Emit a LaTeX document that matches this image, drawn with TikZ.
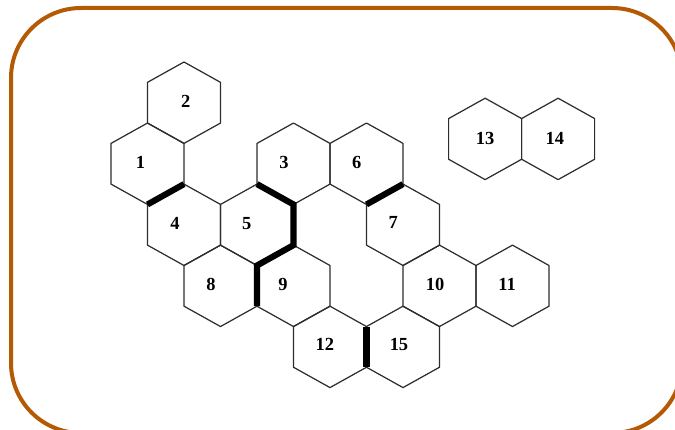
\documentclass[tikz,border=0pt]{standalone}
\usepackage{fontspec}
\setmainfont{Liberation Serif}
\usepackage{tikz}

\begin{document}
\begin{tikzpicture}[
    line cap=round,
    line join=round,
    x=1cm,
    y=1cm
]

% =========================================================
% Colors
% =========================================================
\definecolor{frameorange}{RGB}{180,90,5}
\definecolor{cellgray}{RGB}{45,45,45}

% =========================================================
% Styles
% =========================================================
\tikzset{
    outerframe/.style={frameorange,line width=0.08cm,rounded corners=1.4cm},
    hexline/.style={cellgray,line width=0.7pt},
    wallline/.style={black,line width=3.5pt,line cap=butt},
    cellnum/.style={font=\fontsize{10.5}{11}\selectfont\bfseries,inner sep=0pt}
}

\useasboundingbox (0,0) rectangle (13.5,8.6);
\clip (0,0) rectangle (13.5,8.6);

% frame
\draw[outerframe] (0.22,-0.06) rectangle (13.64,8.44);

% =========================================================
% Board: pointy-top cells, unit = half width / half side
% =========================================================
\begin{scope}[shift={(3.68,6.546)},x=0.73cm,y=0.407cm]

    % cells
    \draw[hexline] (0,2) -- ++(1,-1) -- ++(0,-2) -- ++(-1,-1) -- ++(-1,1) -- ++(0,2) -- cycle;
    \draw[hexline] (-1,-1) -- ++(1,-1) -- ++(0,-2) -- ++(-1,-1) -- ++(-1,1) -- ++(0,2) -- cycle;
    \draw[hexline] (3,-1) -- ++(1,-1) -- ++(0,-2) -- ++(-1,-1) -- ++(-1,1) -- ++(0,2) -- cycle;
    \draw[hexline] (5,-1) -- ++(1,-1) -- ++(0,-2) -- ++(-1,-1) -- ++(-1,1) -- ++(0,2) -- cycle;
    \draw[hexline] (0,-4) -- ++(1,-1) -- ++(0,-2) -- ++(-1,-1) -- ++(-1,1) -- ++(0,2) -- cycle;
    \draw[hexline] (2,-4) -- ++(1,-1) -- ++(0,-2) -- ++(-1,-1) -- ++(-1,1) -- ++(0,2) -- cycle;
    \draw[hexline] (6,-4) -- ++(1,-1) -- ++(0,-2) -- ++(-1,-1) -- ++(-1,1) -- ++(0,2) -- cycle;
    \draw[hexline] (1,-7) -- ++(1,-1) -- ++(0,-2) -- ++(-1,-1) -- ++(-1,1) -- ++(0,2) -- cycle;
    \draw[hexline] (3,-7) -- ++(1,-1) -- ++(0,-2) -- ++(-1,-1) -- ++(-1,1) -- ++(0,2) -- cycle;
    \draw[hexline] (7,-7) -- ++(1,-1) -- ++(0,-2) -- ++(-1,-1) -- ++(-1,1) -- ++(0,2) -- cycle;
    \draw[hexline] (9,-7) -- ++(1,-1) -- ++(0,-2) -- ++(-1,-1) -- ++(-1,1) -- ++(0,2) -- cycle;
    \draw[hexline] (4,-10) -- ++(1,-1) -- ++(0,-2) -- ++(-1,-1) -- ++(-1,1) -- ++(0,2) -- cycle;
    \draw[hexline] (6,-10) -- ++(1,-1) -- ++(0,-2) -- ++(-1,-1) -- ++(-1,1) -- ++(0,2) -- cycle;
    % separate pair
    \draw[hexline] (8.25,0.22) -- ++(1,-1) -- ++(0,-2) -- ++(-1,-1) -- ++(-1,1) -- ++(0,2) -- cycle;
    \draw[hexline] (10.25,0.22) -- ++(1,-1) -- ++(0,-2) -- ++(-1,-1) -- ++(-1,1) -- ++(0,2) -- cycle;

    % walls
    \draw[wallline] (0,-4) -- (-1,-5);
    \draw[wallline,line join=miter] (2,-4) -- (3,-5) -- (3,-7) -- (2,-8) -- (2,-10);
    \draw[wallline] (6,-4) -- (5,-5);
    \draw[wallline] (5,-11) -- (5,-13);

    % cell numbers
    \node[cellnum] (n1)  at (-1.19,-2.95) {1};
    \node[cellnum] (n2)  at (0.05,0.05)   {2};
    \node[cellnum] (n3)  at (2.74,-2.92)  {3};
    \node[cellnum] (n4)  at (-0.25,-5.92) {4};
    \node[cellnum] (n5)  at (1.72,-5.92)  {5};
    \node[cellnum] (n6)  at (4.73,-2.95)  {6};
    \node[cellnum] (n7)  at (5.73,-5.90)  {7};
    \node[cellnum] (n8)  at (0.74,-8.95)  {8};
    \node[cellnum] (n9)  at (2.71,-8.95)  {9};
    \node[cellnum] (n10) at (6.88,-8.95)  {10};
    \node[cellnum] (n11) at (8.85,-8.95)  {11};
    \node[cellnum] (n12) at (3.86,-11.90) {12};
    \node[cellnum] (n15) at (5.89,-11.90) {15};
    \node[cellnum] (n13) at (8.25,-1.75)  {13};
    \node[cellnum] (n14) at (10.16,-1.75) {14};

\end{scope}
\end{tikzpicture}
\end{document}
